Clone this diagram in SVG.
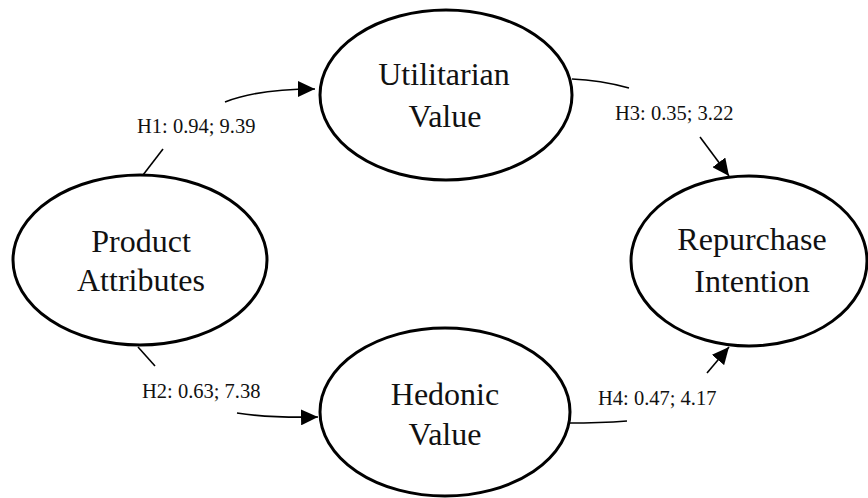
<svg xmlns="http://www.w3.org/2000/svg" width="868" height="498" viewBox="0 0 868 498">
<style>
.node ellipse{fill:#fff;stroke:#000;stroke-width:3}
.node text{font-family:'Liberation Serif','DejaVu Serif',serif;font-size:32px;fill:#111;text-anchor:middle}
.lbl{font-family:'Liberation Serif','DejaVu Serif',serif;font-size:20.5px;fill:#111}
#connectors path{fill:none;stroke:#000;stroke-width:1.6}
</style>
<defs>
<marker id="arr" markerUnits="userSpaceOnUse" markerWidth="18" markerHeight="16" refX="17" refY="8" orient="auto">
<path d="M0,0 L17,8 L0,16 z" fill="#000"/>
</marker>
</defs>
<rect width="868" height="498" fill="#fff"/>
<g id="connectors">
<path d="M143,175 L163,149"/>
<path d="M225,102 Q258,89 315,89" marker-end="url(#arr)"/>
<path d="M138,347 L155,366"/>
<path d="M237,413 Q268,418 318,417" marker-end="url(#arr)"/>
<path d="M572,79 Q600,80 629,88"/>
<path d="M700,137 L729,176" marker-end="url(#arr)"/>
<path d="M568,423 Q600,423 627,421"/>
<path d="M707,373 L729,347" marker-end="url(#arr)"/>
</g>
<g id="labels">
<text class="lbl" x="137" y="133">H1: 0.94; 9.39</text>
<text class="lbl" x="142" y="398">H2: 0.63; 7.38</text>
<text class="lbl" x="615" y="120">H3: 0.35; 3.22</text>
<text class="lbl" x="598" y="405">H4: 0.47; 4.17</text>
</g>
<g id="product" class="node">
<ellipse cx="140" cy="260" rx="127" ry="85"/>
<text x="141" y="252">Product</text>
<text x="141" y="291">Attributes</text>
</g>
<g id="utilitarian" class="node">
<ellipse cx="446" cy="95" rx="126" ry="85"/>
<text x="444" y="85">Utilitarian</text>
<text x="445" y="127">Value</text>
</g>
<g id="hedonic" class="node">
<ellipse cx="445" cy="412" rx="125" ry="84"/>
<text x="445" y="405">Hedonic</text>
<text x="445" y="445">Value</text>
</g>
<g id="repurchase" class="node">
<ellipse cx="749" cy="261" rx="118" ry="85"/>
<text x="752" y="250">Repurchase</text>
<text x="752" y="292">Intention</text>
</g>
</svg>
